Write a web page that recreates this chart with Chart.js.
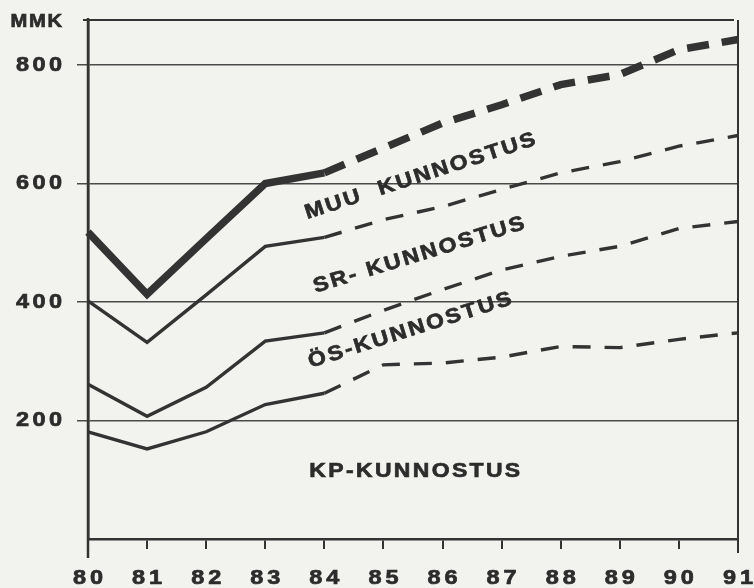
<!DOCTYPE html>
<html><head><meta charset="utf-8">
<script src="https://cdn.jsdelivr.net/npm/chart.js@4/dist/chart.umd.min.js"></script>
<style>html,body{margin:0;padding:0;background:#f2f2ee;}canvas{display:block}</style>
</head><body>
<canvas id="c" width="754" height="588"></canvas>
<script>
// ---- data ----
const years = ['80','81','82','83','84','85','86','87','88','89','90','91'];
const muu = [518, 413, 507, 600, 618, 660, 702, 733, 767, 784, 826, 843];
const sr  = [402, 332, 412, 494, 509, 539, 561, 590, 618, 637, 663, 681];
const os  = [261, 207, 256, 334, 348, 386, 421, 454, 477, 494, 524, 536];
const kp  = [181, 152, 181, 227, 246, 294, 297, 307, 325, 323, 337, 348];
const yTicks = [200, 400, 600, 800];
const unitLabel = 'MMK';
const seriesNames = ['MUU  KUNNOSTUS', 'SR- KUNNOSTUS', 'ÖS-KUNNOSTUS', 'KP-KUNNOSTUS'];
const forecastFrom = 4; // index of '84': dashed afterwards

// ---- styles ----
const BG = '#f2f2ee';
const INK = '#333333';
const FONT = '"Liberation Sans", Arial, sans-serif';
const STRETCH = 1.12;

function seg(dash) {
  return { borderDash: ctx => ctx.p0DataIndex >= forecastFrom ? dash : undefined };
}
function ds(label, data, width, dash) {
  return {
    label, data, borderColor: INK, borderWidth: width, pointRadius: 0,
    tension: 0, fill: false, borderCapStyle: 'butt', borderJoinStyle: 'miter',
    segment: seg(dash)
  };
}

const labelPlacement = [
  { text: seriesNames[0], x: 5.62, y: 612, angle: -18 },
  { text: seriesNames[1], x: 5.60, y: 479, angle: -17 },
  { text: seriesNames[2], x: 5.45, y: 352, angle: -17.5 },
  { text: seriesNames[3], x: 5.53, y: 114, angle: 0 }
];

function drawText(ctx, text, px, py, opt) {
  const sp = opt.spacing || 0;
  ctx.save();
  ctx.translate(px, py);
  if (opt.angle) ctx.rotate(opt.angle * Math.PI / 180);
  ctx.scale(STRETCH, 1);
  ctx.font = opt.font;
  ctx.letterSpacing = sp + 'px';
  ctx.textAlign = opt.align || 'center';
  ctx.textBaseline = 'middle';
  const dx = opt.align === 'right' ? sp : (opt.align === 'left' ? 0 : sp / 2);
  ctx.fillText(text, dx, 0);
  ctx.lineWidth = 0.7;
  ctx.strokeStyle = ctx.fillStyle;
  ctx.strokeText(text, dx, 0);
  ctx.restore();
}

const deco = {
  id: 'deco',
  beforeDraw(chart) {
    const c = chart.ctx;
    c.save(); c.fillStyle = BG; c.fillRect(0, 0, chart.width, chart.height); c.restore();
  },
  afterDraw(chart) {
    const { ctx, chartArea: a, scales: { x, y } } = chart;
    ctx.save();
    ctx.strokeStyle = INK;
    ctx.lineWidth = 2;
    ctx.beginPath(); ctx.moveTo(a.left - 5, a.top); ctx.lineTo(a.right - 4, a.top); ctx.stroke();
    ctx.beginPath(); ctx.moveTo(a.right, a.top); ctx.lineTo(a.right, a.bottom + 14); ctx.stroke();
    ctx.lineWidth = 2.5;
    ctx.beginPath(); ctx.moveTo(a.left, a.top - 2); ctx.lineTo(a.left, a.bottom + 19); ctx.stroke();

    ctx.fillStyle = '#2c2c2c';
    const tickFont = 'bold 21px ' + FONT;
    yTicks.forEach(v => drawText(ctx, String(v), 62, y.getPixelForValue(v), { font: tickFont, spacing: 3, align: 'right' }));
    drawText(ctx, unitLabel, 62, 22, { font: 'bold 18px ' + FONT, spacing: 1.5, align: 'right' });
    years.forEach((t, i) => drawText(ctx, t, x.getPixelForValue(i), 578, { font: tickFont, spacing: 3.5 }));
    labelPlacement.forEach(l => drawText(ctx, l.text, x.getPixelForValue(l.x), y.getPixelForValue(l.y),
      { font: 'bold 20.5px ' + FONT, spacing: 2.1, angle: l.angle }));
    ctx.restore();
  }
};

new Chart(document.getElementById('c'), {
  type: 'line',
  data: {
    labels: years,
    datasets: [
      ds(seriesNames[0], muu, 7.5, [22, 13]),
      ds(seriesNames[1], sr, 3.4, [18, 14]),
      ds(seriesNames[2], os, 3.4, [18, 14]),
      ds(seriesNames[3], kp, 3.4, [18, 14])
    ]
  },
  options: {
    responsive: false,
    animation: false,
    devicePixelRatio: 1,
    layout: { padding: { left: 0, top: 20, right: 16, bottom: 0 } },
    plugins: { legend: { display: false }, tooltip: { enabled: false } },
    scales: {
      x: {
        type: 'category',
        offset: false,
        grid: { drawOnChartArea: false, drawTicks: true, tickLength: 10, color: INK, lineWidth: 2 },
        border: { display: true, color: INK, width: 2.5 },
        ticks: { display: false },
        afterFit(s) { s.height = 49; }
      },
      y: {
        min: 0, max: 876,
        afterBuildTicks(s) { s.ticks = yTicks.map(v => ({ value: v })); },
        grid: { drawOnChartArea: true, drawTicks: true, tickLength: 11, color: '#4a4a4a', lineWidth: 1.5 },
        border: { display: true, color: INK, width: 2.5 },
        ticks: { display: false },
        afterFit(s) { s.width = 88; }
      }
    }
  },
  plugins: [deco]
});
</script>
</body></html>
